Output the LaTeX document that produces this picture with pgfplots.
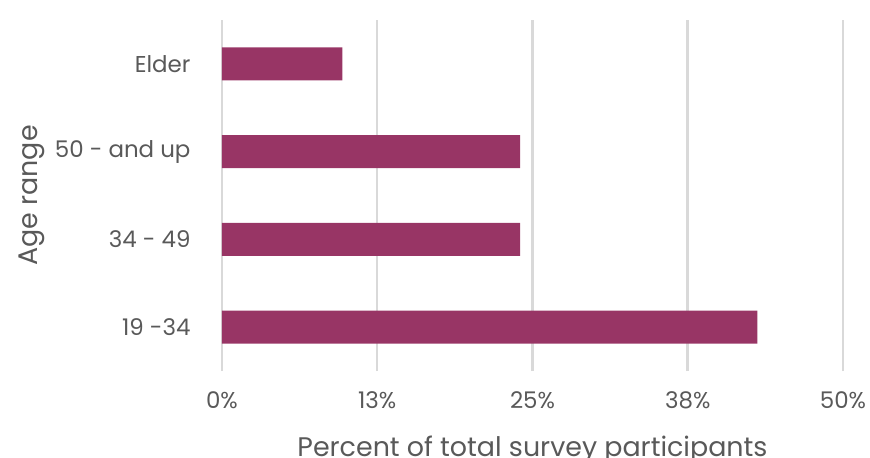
\documentclass[border=0pt]{standalone}
\usepackage{fontspec}
\setmainfont{Poppins}
\usepackage{pgfplots}
\pgfplotsset{compat=1.18}
\definecolor{barc}{HTML}{983565}
\definecolor{gridc}{HTML}{D9D9D9}
\definecolor{txt}{HTML}{595959}
\begin{document}
\begin{tikzpicture}
\begin{axis}[
  at={(0,0)}, anchor=south west,
  scale only axis, width=621bp, height=351bp,
  xmin=0, xmax=50, ymin=-0.5, ymax=3.5,
  xbar, bar width=0.377, bar shift=0pt,
  axis line style={draw=none},
  major tick length=0pt,
  xtick={0,12.5,25,37.5,50},
  xticklabels={0\%,13\%,25\%,38\%,50\%},
  ytick={0,1,2,3},
  yticklabels={19 -34,34 - 49,50 - and up,Elder},
  xmajorgrids, major grid style={draw=gridc, line width=2.5bp},
  /pgf/number format/assume math mode=true,
  tick label style={font=\fontsize{23}{26}\selectfont, text=txt},
  xticklabel style={yshift=-17bp},
  yticklabel style={xshift=-28bp},
  xlabel={Percent of total survey participants},
  ylabel={Age range},
  label style={font=\fontsize{27}{30}\selectfont, text=txt},
  xlabel style={at={(axis description cs:0.5,0)}, anchor=base, yshift=-85bp},
  ylabel style={at={(axis description cs:0,0.5)}, anchor=center, xshift=0pt, yshift=190bp},
  clip=false,
]
\addplot[fill=barc, draw=none] coordinates {(43.1,0) (24.0,1) (24.0,2) (9.7,3)};
\end{axis}
\pgfresetboundingbox
\path (-222bp,-87bp) rectangle (648bp,371bp);
\end{tikzpicture}
\end{document}
